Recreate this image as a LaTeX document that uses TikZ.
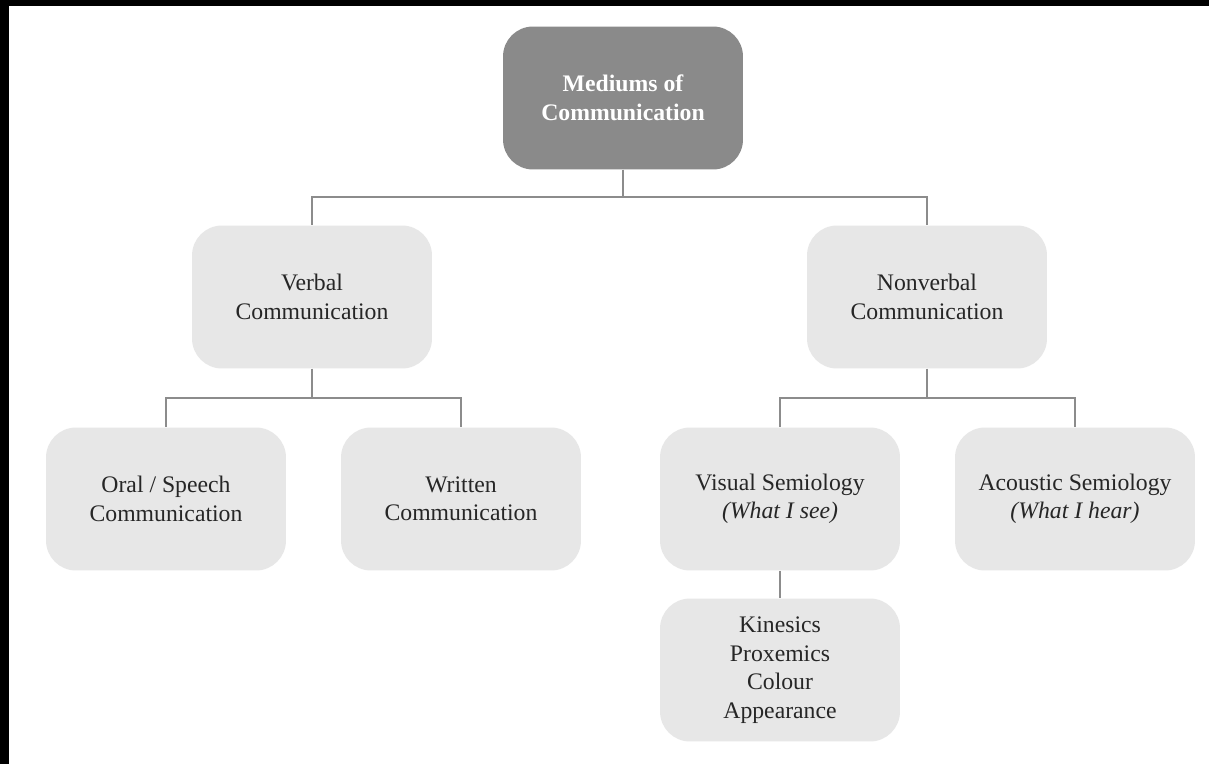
\documentclass[tikz,border=0pt]{standalone}
\usepackage{fontspec}
\setmainfont{Liberation Serif}
\definecolor{boxgray}{HTML}{E7E7E7}
\definecolor{topgray}{HTML}{8A8A8A}
\definecolor{linegray}{HTML}{8C8C8C}
\begin{document}
\begin{tikzpicture}[x=0.02cm,y=-0.02cm,
	box/.style={fill=boxgray, rounded corners=0.6cm, minimum width=4.8cm, minimum height=2.86cm, align=center, font=\fontsize{13.5}{16.2}\selectfont, text=black!85},
	topbox/.style={box, fill=topgray, text=white, font=\fontsize{13.5}{16.5}\selectfont\bfseries},
	link/.style={draw=linegray, line width=0.85pt}]
	\fill[black] (0,0) rectangle (1209,764);
	\fill[white] (9,6) rectangle (1209,764);
	\node[topbox] (medium) at (623,98) {Mediums of\\Communication};
	\node[box] (verbal) at (312,297) {Verbal\\Communication};
	\node[box] (nonverbal) at (927,297) {Nonverbal\\Communication};
	\node[box] (oral) at (166,499) {Oral / Speech\\Communication};
	\node[box] (written) at (461,499) {Written\\Communication};
	\node[box] (visual) at (780,499) {Visual Semiology\\\textit{(What I see)}};
	\node[box] (acoustic) at (1075,499) {Acoustic Semiology\\\textit{(What I hear)}};
	\node[box] (kinesics) at (780,670) {Kinesics\\Proxemics\\Colour\\Appearance};
	\draw[link] (medium.south) -- ++(0,27) -| (verbal.north);
	\draw[link] (medium.south) -- ++(0,27) -| (nonverbal.north);
	\draw[link] (verbal.south) -- ++(0,29) -| (oral.north);
	\draw[link] (verbal.south) -- ++(0,29) -| (written.north);
	\draw[link] (nonverbal.south) -- ++(0,29) -| (visual.north);
	\draw[link] (nonverbal.south) -- ++(0,29) -| (acoustic.north);
	\draw[link] (visual.south) -- (kinesics.north);
\end{tikzpicture}
\end{document}
